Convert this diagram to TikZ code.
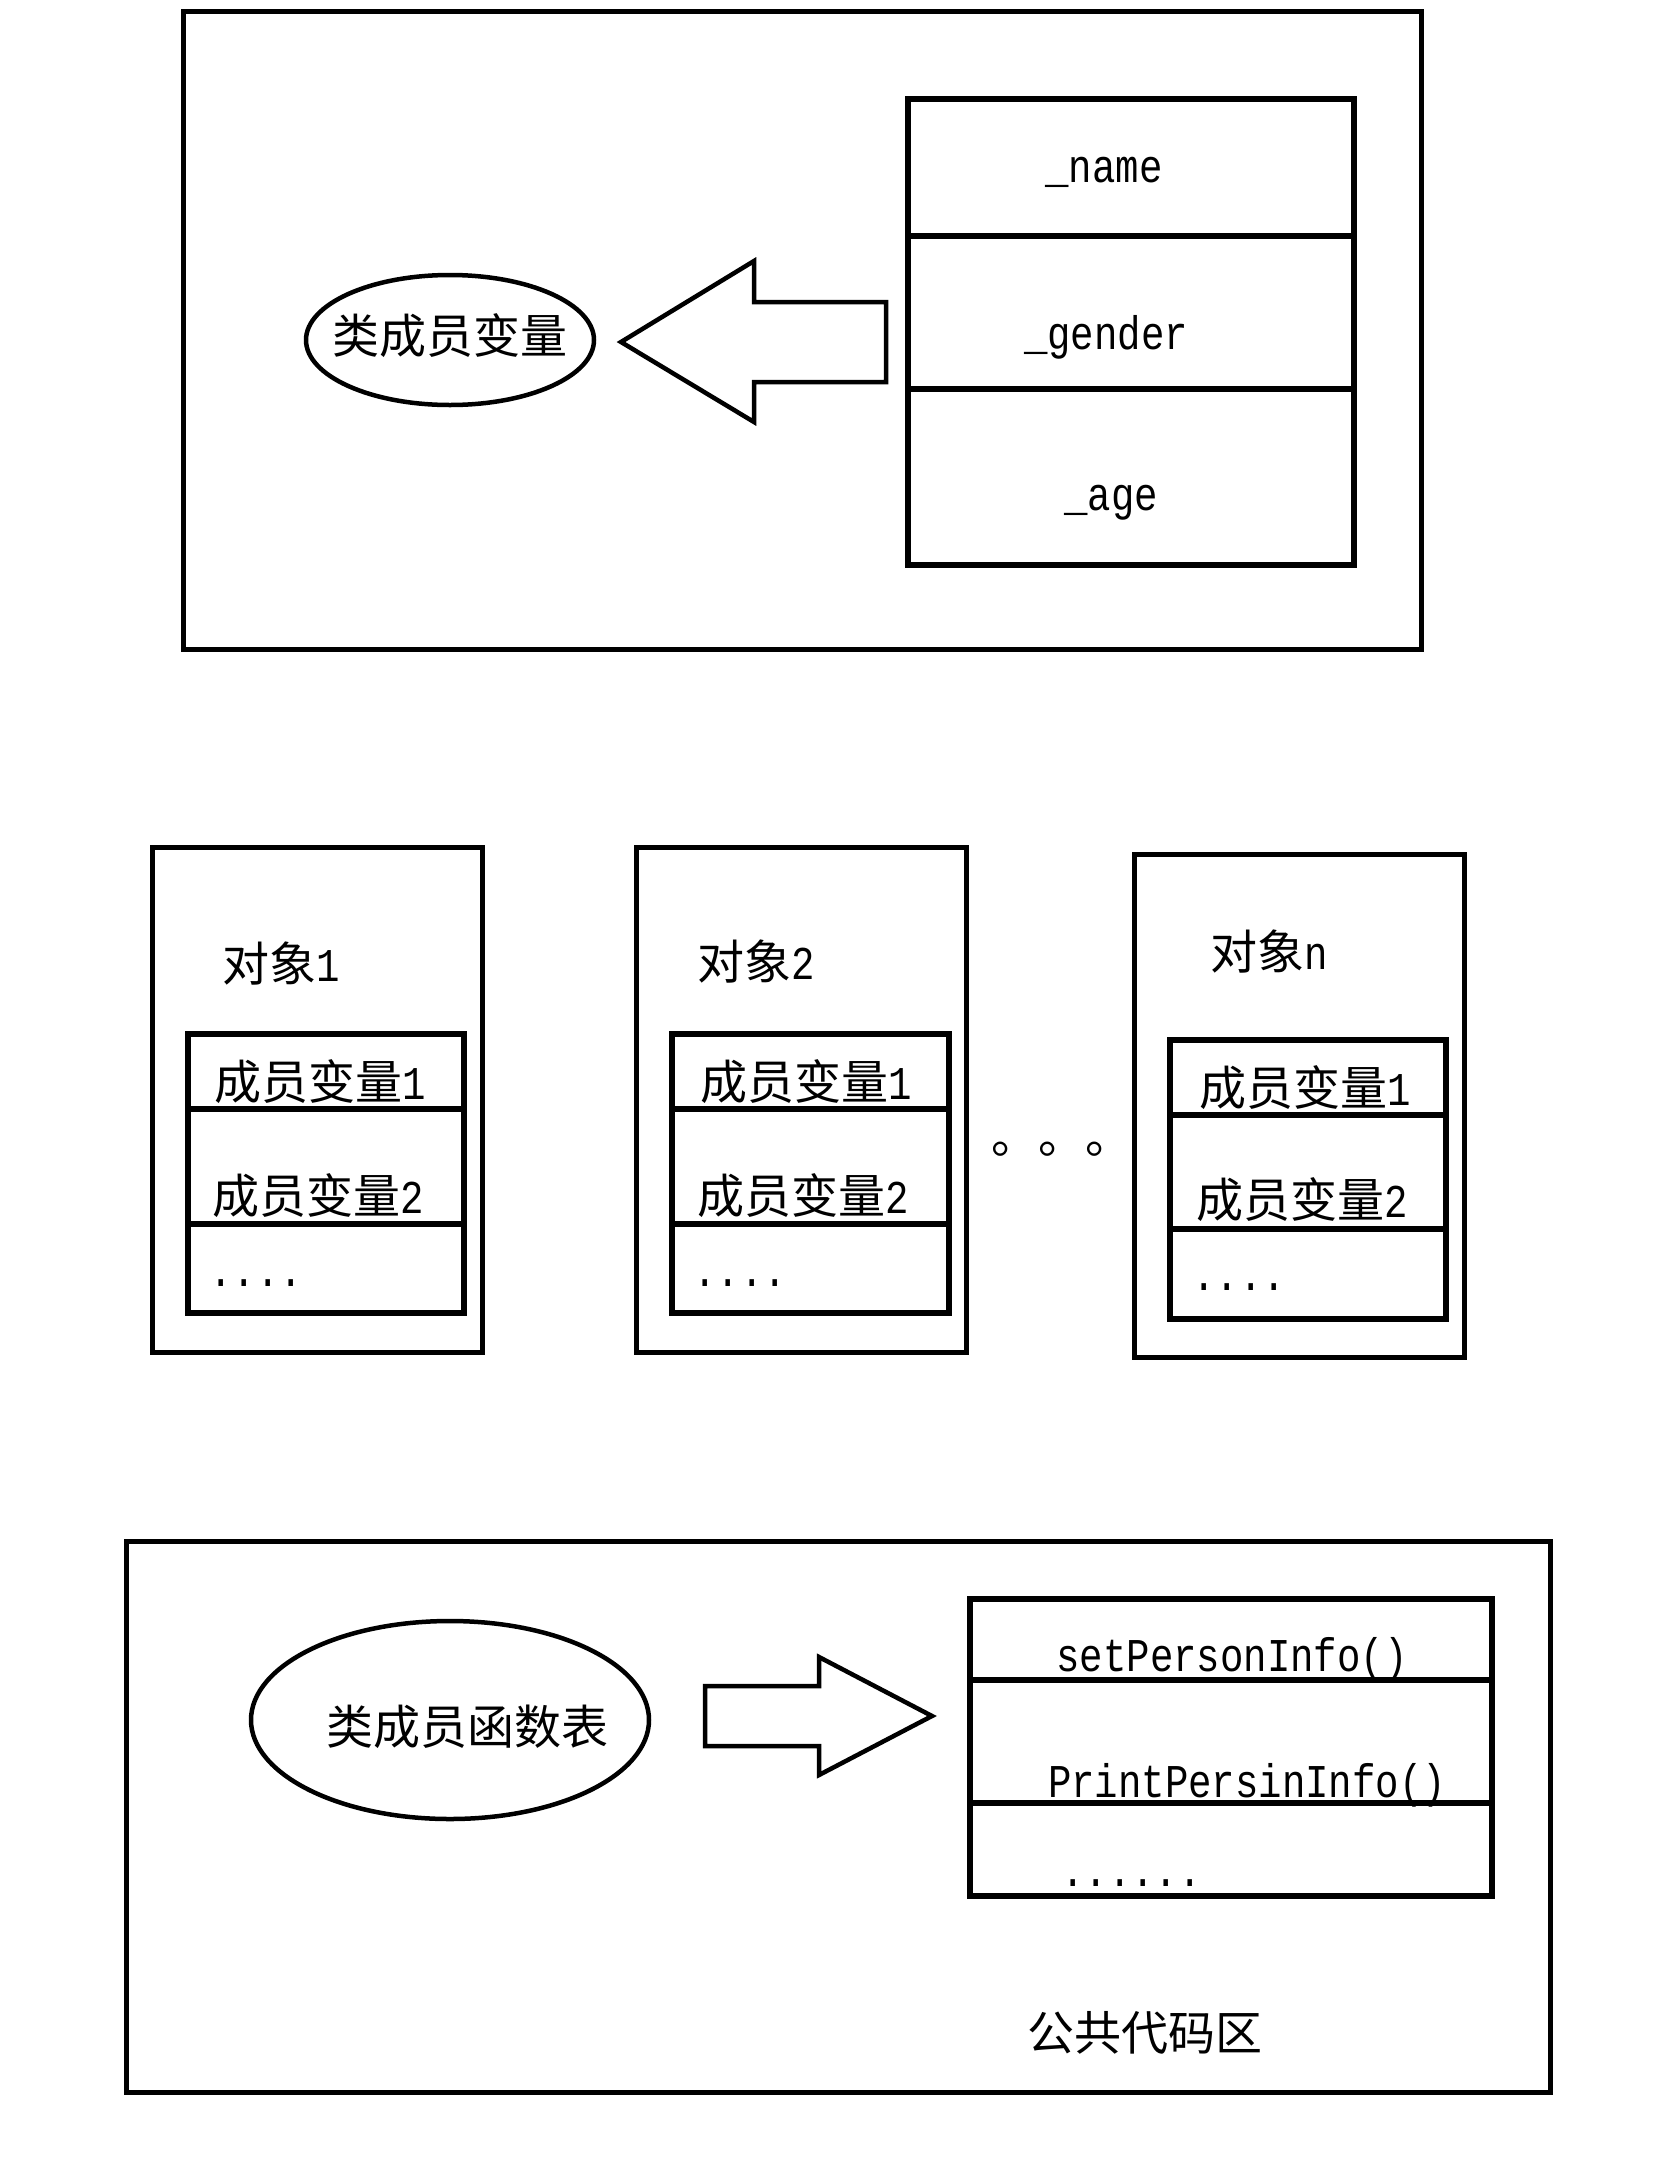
\documentclass[tikz,border=0pt]{standalone}
\usepackage{fontspec}
\newfontfamily\cjk{Noto Sans CJK SC}
\newfontfamily\latf[FakeStretch=0.83]{Liberation Mono}
\usetikzlibrary{shapes.geometric}
\newcommand\latt[1]{{\latf\fontsize{47}{52}\selectfont #1}}
\tikzset{
  frame/.style={draw, line width=5pt},
  tbl/.style={draw, line width=5.5pt},
  oval/.style={draw, ellipse, line width=4.5pt, inner sep=0pt},
  bigarrow/.style={draw, line width=4.5pt, line join=miter},
  cj/.style={font=\cjk\fontsize{47}{52}\selectfont, inner sep=0pt},
  lt/.style={font=\latf\fontsize{47}{52}\selectfont, inner sep=0pt, anchor=base},
}
\begin{document}
\begin{tikzpicture}[x=1pt,y=-1pt]
\useasboundingbox[fill=white] (0,0) rectangle (1662,2166);

% ---------- top region ----------
\draw[frame] (183,11) rectangle (1421,649);
\draw[tbl] (908,99) rectangle (1354,565);
\draw[tbl] (908,236) -- (1354,236);
\draw[tbl] (908,389) -- (1354,389);
\node[lt] (tname) at (1104,182) {\_name};
\node[lt] (tgender) at (1106,349) {\_gender};
\node[lt] (tage) at (1111,510) {\_age};
\node[oval, minimum width=288pt, minimum height=130pt] (cvars) at (450,340) {};
\node[cj] (cvarstxt) at (450,336) {类成员变量};
\coordinate (a1tip) at (621,342);
\draw[bigarrow] (a1tip) -- (754,261) -- (754,302) -- (886,302) -- (886,382) -- (754,382) -- (754,422) -- cycle;

% ---------- objects ----------
% object 1
\draw[frame] (152,847) rectangle (482,1352);
\draw[tbl] (188,1034) rectangle (464,1313);
\draw[tbl] (188,1109) -- (464,1109);
\draw[tbl] (188,1224) -- (464,1224);
\node[cj] (o1) at (281,964) {对象\latt{1}};
\node[cj] (o1m1) at (320,1082) {成员变量\latt{1}};
\node[cj] (o1m2) at (318,1196) {成员变量\latt{2}};
\node[lt, anchor=base west] (o1d) at (209,1286) {....};
% object 2
\draw[frame] (636,847) rectangle (966,1352);
\draw[tbl] (672,1034) rectangle (949,1313);
\draw[tbl] (672,1109) -- (949,1109);
\draw[tbl] (672,1224) -- (949,1224);
\node[cj] (o2) at (756,962) {对象\latt{2}};
\node[cj] (o2m1) at (806,1082) {成员变量\latt{1}};
\node[cj] (o2m2) at (803,1196) {成员变量\latt{2}};
\node[lt, anchor=base west] (o2d) at (693,1286) {....};
% dots
\node[cj, anchor=base west] (ellip) at (991,1153) {。。。};
% object n
\draw[frame] (1134,854) rectangle (1464,1357);
\draw[tbl] (1170,1040) rectangle (1446,1319);
\draw[tbl] (1170,1115) -- (1446,1115);
\draw[tbl] (1170,1229) -- (1446,1229);
\node[cj] (on) at (1269,952) {对象\latt{n}};
\node[cj] (onm1) at (1305,1088) {成员变量\latt{1}};
\node[cj] (onm2) at (1302,1200) {成员变量\latt{2}};
\node[lt, anchor=base west] (ond) at (1192,1290) {....};

% ---------- bottom region ----------
\draw[frame] (126,1541) rectangle (1550,2092);
\node[oval, minimum width=398pt, minimum height=198pt] (cfuncs) at (450,1720) {};
\node[cj] (cfuncstxt) at (467,1727) {类成员函数表};
\coordinate (a2tip) at (932,1716);
\draw[bigarrow] (705,1686) -- (819,1686) -- (819,1657) -- (a2tip) -- (819,1775) -- (819,1746) -- (705,1746) -- cycle;
\draw[tbl] (970,1599) rectangle (1492,1896);
\draw[tbl] (970,1680) -- (1492,1680);
\draw[tbl] (970,1803) -- (1492,1803);
\node[lt] (f1) at (1232,1671) {setPersonInfo()};
\node[lt] (f2) at (1247,1797) {PrintPersinInfo()};
\node[lt, anchor=base west] (f3) at (1061,1886) {......};
\node[cj] (pub) at (1145,2033) {公共代码区};
\end{tikzpicture}
\end{document}
